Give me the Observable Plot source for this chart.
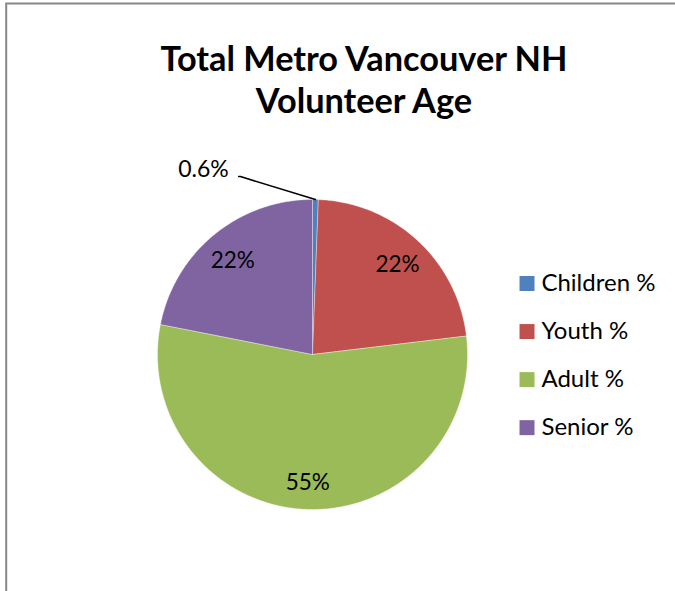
<!DOCTYPE html>
<html><head><meta charset="utf-8">
<script src="https://cdn.jsdelivr.net/npm/d3@7"></script>
<script src="https://cdn.jsdelivr.net/npm/@observablehq/plot@0.6"></script>
<style>body{margin:0;background:#fff;} svg{display:block;}</style>
</head><body><div id="chart"></div>
<script>
// ---- data ----
const categories = ["Children %", "Youth %", "Adult %", "Senior %"];
const values = [0.6, 22.5, 55.0, 21.9];
const labels = ["0.6%", "22%", "55%", "22%"];
const colors = ["#4F81BD", "#C0504D", "#9BBB59", "#8064A2"];
const titleLines = ["Total Metro Vancouver NH", "Volunteer Age"];

// ---- layout constants (data units: pie radius = 1) ----
const FONT = "Lato, 'Open Sans', sans-serif";
const labelR = 0.81;
const titleX = 0.332, titleBase = [1.832, 1.561];
const legX = 1.384, legTextX = 1.477, legTop = 0.458, legStep = 0.31;
const callDx = -0.484, callDy = 0.148, callGap = 0.075;

const rows = categories.map((c, i) => ({category: c, value: values[i], label: labels[i]}));
const arcs = d3.pie().sort(null).value(d => d.value)(rows);

// slice outlines (polar -> cartesian in data units)
const slicePts = [];
arcs.forEach(a => {
  const c = a.data.category;
  const n = Math.max(2, Math.ceil((a.endAngle - a.startAngle) * 180 / Math.PI * 2));
  slicePts.push({category: c, x: 0, y: 0});
  for (let k = 0; k <= n; k++) {
    const t = a.startAngle + (a.endAngle - a.startAngle) * k / n;
    slicePts.push({category: c, x: Math.sin(t), y: Math.cos(t)});
  }
  slicePts.push({category: c, x: 0, y: 0});
});

const inner = [], callouts = [], leader = [];
arcs.forEach(a => {
  const m = (a.startAngle + a.endAngle) / 2;
  if (a.data.value < 5) {
    const p = {x: Math.sin(m), y: Math.cos(m)};
    const e = {x: p.x + callDx, y: p.y + callDy};
    leader.push(p, e, {x: e.x - callGap * 0.15, y: e.y});
    callouts.push({x: e.x - callGap, y: e.y, label: a.data.label});
  } else {
    inner.push({x: labelR * Math.sin(m), y: labelR * Math.cos(m), label: a.data.label});
  }
});

const legend = categories.map((c, i) => ({category: c, x: legX, tx: legTextX, y: legTop - i * legStep}));
const titles = titleLines.map((t, i) => ({t, x: titleX, y: titleBase[i]}));

const chart = Plot.plot({
  width: 675, height: 591,
  margin: 0,
  style: {fontFamily: FONT, background: "#fff"},
  x: {domain: [-1, 1], range: [157, 467], axis: null},
  y: {domain: [-1, 1], range: [509, 199], axis: null},
  color: {domain: categories, range: colors},
  marks: [
    Plot.frame({stroke: "#878787", strokeWidth: 2, insetLeft: 5.7, insetTop: 3, insetRight: -10, insetBottom: -10}),
    Plot.line(slicePts, {x: "x", y: "y", z: "category", fill: "category", stroke: "#ffffff", strokeWidth: 0.6, strokeOpacity: 0.6, curve: "linear"}),
    Plot.text(inner, {x: "x", y: "y", text: "label", fontSize: 22.5, fill: "#000", lineAnchor: "middle", textAnchor: "middle", dy: 3}),
    Plot.line(leader, {x: "x", y: "y", stroke: "#000", strokeWidth: 1.5}),
    Plot.text(callouts, {x: "x", y: "y", text: "label", fontSize: 23, fill: "#000", lineAnchor: "bottom", textAnchor: "end"}),
    Plot.dot(legend, {x: "x", y: "y", fill: "category", symbol: "square", r: 8.46, stroke: null}),
    Plot.text(legend, {x: "tx", y: "y", text: "category", fontSize: 24, fill: "#000", lineAnchor: "middle", textAnchor: "start"}),
    Plot.text(titles, {x: "x", y: "y", text: "t", fontSize: 34.3, fontWeight: "bold", fill: "#000", lineAnchor: "bottom", textAnchor: "middle"})
  ]
});
document.getElementById("chart").append(chart);
</script>
</body></html>
